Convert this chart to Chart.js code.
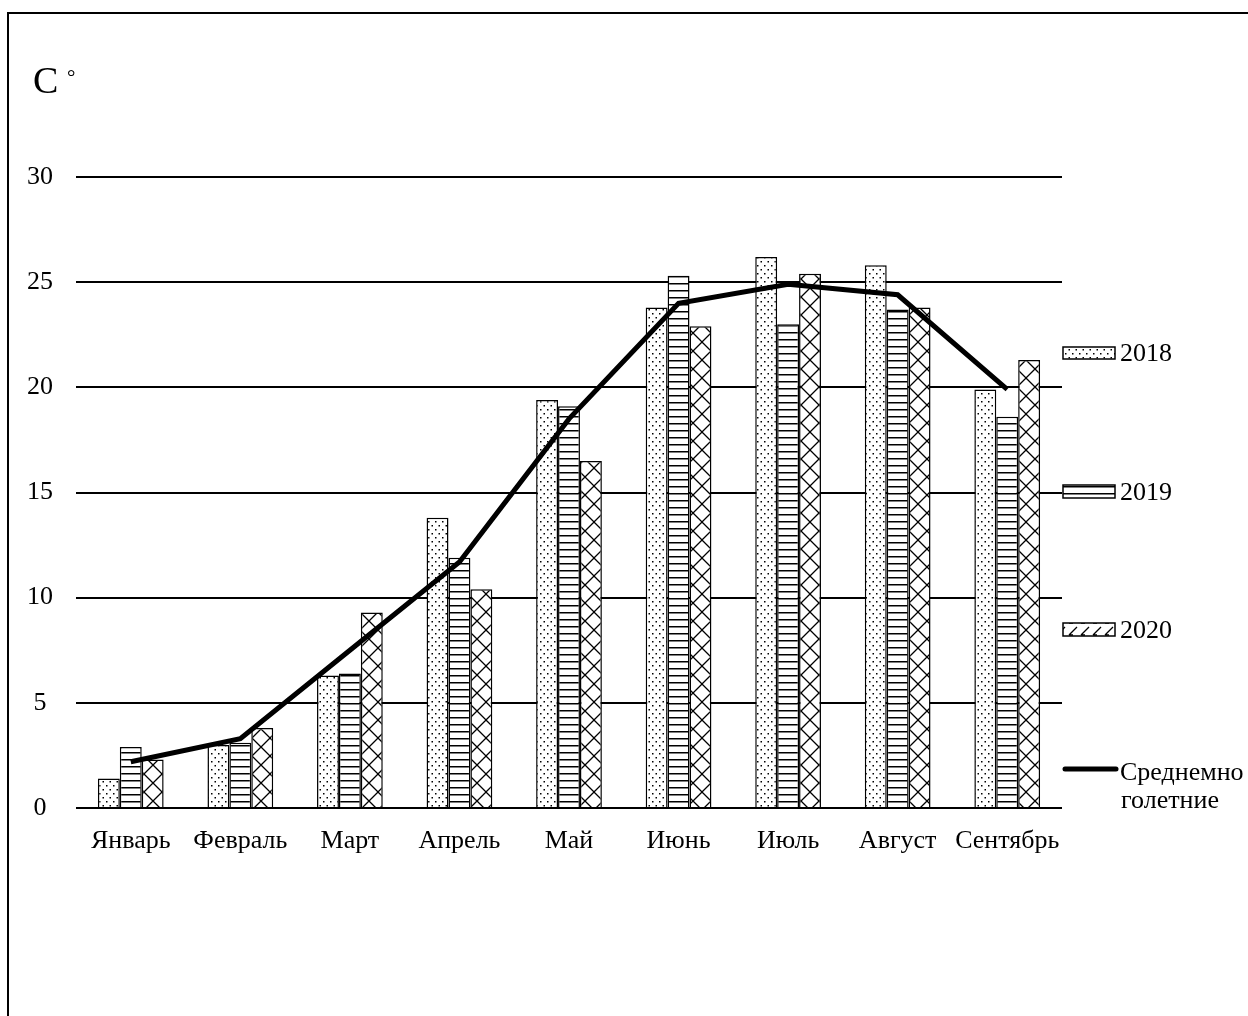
<!DOCTYPE html>
<html lang="ru">
<head>
<meta charset="utf-8">
<title>Температура воздуха, C°</title>
<script src="https://cdn.jsdelivr.net/npm/chart.js@4.4.1/dist/chart.umd.min.js"></script>
<style>
  html, body { margin: 0; padding: 0; background: #fff; overflow: hidden; }
  #frame {
    position: absolute; left: 7px; top: 12px; width: 1400px; height: 1200px;
    border-left: 2px solid #000; border-top: 2px solid #000;
  }
  #wrap { position: absolute; left: 0; top: 0; width: 1248px; height: 1016px; }
</style>
</head>
<body>
<div id="frame"></div>
<div id="wrap"><canvas id="chart"></canvas></div>
<script>
// Months (x categories)
const months = ['Январь', 'Февраль', 'Март', 'Апрель', 'Май', 'Июнь', 'Июль', 'Август', 'Сентябрь'];

// Mean monthly air temperature, °C
const t2018 = [1.4, 3.0, 6.3, 13.8, 19.4, 23.8, 26.2, 25.8, 19.9];
const t2019 = [2.9, 3.1, 6.4, 11.9, 19.1, 25.3, 23.0, 23.7, 18.6];
const t2020 = [2.3, 3.8, 9.3, 10.4, 16.5, 22.9, 25.4, 23.8, 21.3];
const tAverage = [2.2, 3.3, 7.5, 11.7, 18.5, 24.0, 24.9, 24.4, 19.9];

// Legend captions
const seriesNames = ['2018', '2019', '2020'];
const averageName = ['Среднемно', 'голетние'];

// Y axis range
const yMin = 0, yMax = 30, yStep = 5;

const SERIF = '"Liberation Serif", "Times New Roman", serif';

// Hatch fills for the bars
function makePattern(kind) {
  const c = document.createElement('canvas');
  const g = c.getContext('2d');
  if (kind === 'dots') {
    c.width = 7; c.height = 8;
    g.fillStyle = '#fff'; g.fillRect(0, 0, 7, 8);
    g.fillStyle = '#000';
    g.fillRect(1, 1, 1.5, 1.5);
    g.fillRect(4.5, 5, 1.5, 1.5);
  } else if (kind === 'hlines') {
    c.width = 8; c.height = 7;
    g.fillStyle = '#fff'; g.fillRect(0, 0, 8, 7);
    g.fillStyle = '#000';
    g.fillRect(0, 3, 8, 1.5);
  } else if (kind === 'cross') {
    c.width = 18; c.height = 18;
    g.fillStyle = '#fff'; g.fillRect(0, 0, 18, 18);
    g.strokeStyle = '#000'; g.lineWidth = 1.3;
    g.beginPath();
    g.moveTo(-2, 20); g.lineTo(20, -2);
    g.moveTo(-2, -2); g.lineTo(20, 20);
    g.stroke();
  } else {
    // short upward strokes for the legend swatch
    c.width = 12; c.height = 12;
    g.fillStyle = '#fff'; g.fillRect(0, 0, 12, 12);
    g.strokeStyle = '#000'; g.lineWidth = 1.3;
    g.beginPath();
    g.moveTo(1, 11); g.lineTo(9, 3);
    g.moveTo(1, 11); g.lineTo(5, 11);
    g.stroke();
  }
  return g.createPattern(c, 'repeat');
}

const fills = [makePattern('dots'), makePattern('hlines'), makePattern('cross')];
const swatches = [fills[0], fills[1], makePattern('diag')];

// Unit label and right-hand legend drawn on the canvas
const decorations = {
  id: 'decorations',
  afterDraw(chart) {
    const ctx = chart.ctx;
    ctx.save();
    ctx.fillStyle = '#000';
    ctx.textAlign = 'left';
    ctx.textBaseline = 'alphabetic';
    ctx.font = '38px ' + SERIF;
    ctx.fillText('C', 33, 93);
    ctx.font = '21px ' + SERIF;
    ctx.fillText('°', 67, 84);

    const boxX = 1063, boxW = 52;
    const rows = [
      { y: 347, h: 12, base: 361 },
      { y: 485, h: 13, base: 500 },
      { y: 623, h: 13, base: 638 }
    ];
    ctx.font = '26px ' + SERIF;
    rows.forEach((r, i) => {
      ctx.fillStyle = swatches[i];
      ctx.fillRect(boxX, r.y, boxW, r.h);
      ctx.strokeStyle = '#000';
      ctx.lineWidth = 1.5;
      ctx.strokeRect(boxX, r.y, boxW, r.h);
      ctx.fillStyle = '#000';
      ctx.fillText(seriesNames[i], 1120, r.base);
    });

    ctx.strokeStyle = '#000';
    ctx.lineWidth = 5;
    ctx.lineCap = 'round';
    ctx.beginPath();
    ctx.moveTo(1065, 769);
    ctx.lineTo(1116, 769);
    ctx.stroke();
    ctx.fillStyle = '#000';
    ctx.fillText(averageName[0], 1120, 780);
    ctx.fillText(averageName[1], 1121, 808);
    ctx.restore();
  }
};

const barStyle = (i) => ({
  backgroundColor: fills[i],
  borderColor: '#000',
  borderWidth: 1.5,
  categoryPercentage: 0.6,
  barPercentage: 1.0,
  order: 1
});

new Chart(document.getElementById('chart'), {
  type: 'bar',
  data: {
    labels: months,
    datasets: [
      Object.assign({ label: seriesNames[0], data: t2018 }, barStyle(0)),
      Object.assign({ label: seriesNames[1], data: t2019 }, barStyle(1)),
      Object.assign({ label: seriesNames[2], data: t2020 }, barStyle(2)),
      {
        type: 'line',
        label: averageName.join(''),
        data: tAverage,
        borderColor: '#000',
        borderWidth: 5,
        pointRadius: 0,
        tension: 0,
        fill: false,
        order: 0
      }
    ]
  },
  options: {
    responsive: true,
    maintainAspectRatio: false,
    animation: false,
    layout: { padding: { left: 0, right: 186, top: 177, bottom: 148 } },
    plugins: { legend: { display: false }, tooltip: { enabled: false } },
    scales: {
      x: {
        offset: true,
        grid: { display: false, drawTicks: false },
        border: { display: false },
        ticks: {
          color: '#000', font: { family: SERIF, size: 26 },
          padding: 18, maxRotation: 0, autoSkip: false
        },
        afterFit(s) { s.height = 60; }
      },
      y: {
        min: yMin, max: yMax,
        grid: { color: '#000', lineWidth: 2, drawTicks: false },
        border: { display: false },
        ticks: {
          stepSize: yStep, color: '#000', font: { family: SERIF, size: 26 },
          padding: 23, crossAlign: 'center'
        },
        afterFit(s) { s.width = 76; }
      }
    }
  },
  plugins: [decorations]
});
</script>
</body>
</html>
